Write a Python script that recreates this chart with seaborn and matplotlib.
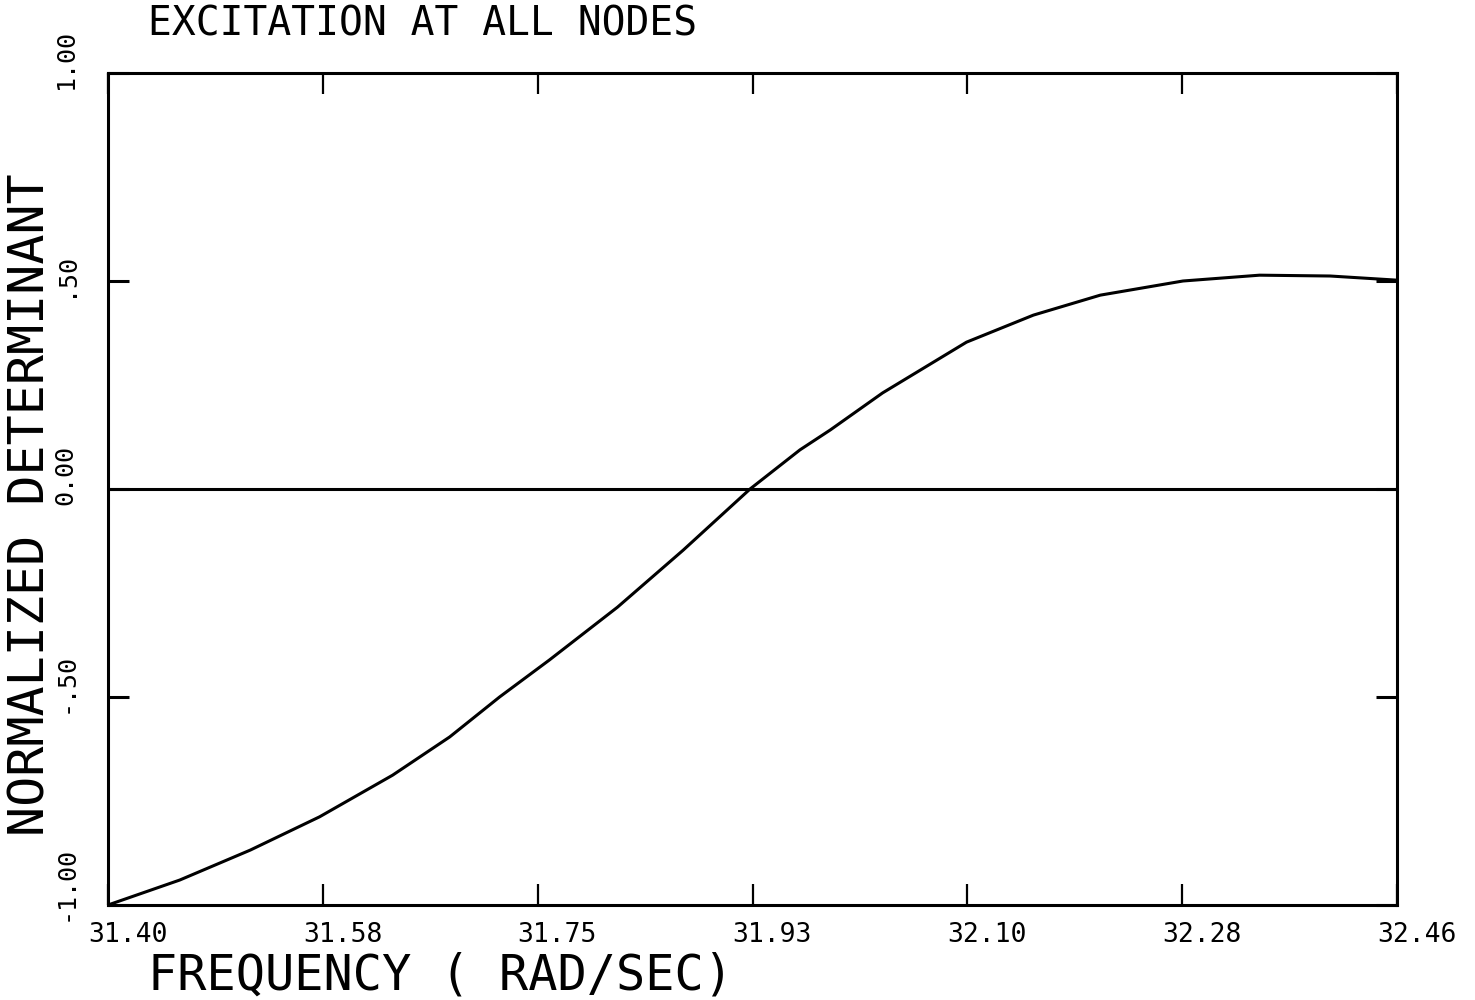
import matplotlib
matplotlib.use("Agg")
import matplotlib.pyplot as plt
from matplotlib.transforms import ScaledTranslation
import seaborn as sns

# ---- data ----
freq = [31.400, 31.459, 31.517, 31.574, 31.634, 31.681, 31.722, 31.763,
        31.819, 31.873, 31.928, 31.969, 31.994, 32.037, 32.106, 32.161,
        32.216, 32.284, 32.347, 32.405, 32.460]
det = [-1.000, -0.940, -0.868, -0.788, -0.688, -0.596, -0.500, -0.411,
       -0.284, -0.147, 0.000, 0.094, 0.142, 0.231, 0.353, 0.418,
       0.466, 0.500, 0.514, 0.512, 0.502]

xticks = [31.40, 31.5767, 31.7533, 31.93, 32.1067, 32.2833, 32.46]
xtick_labels = ["31.40", "31.58", "31.75", "31.93", "32.10", "32.28", "32.46"]
yticks = [-1.0, -0.5, 0.0, 0.5, 1.0]
ytick_labels = ["-1.00", "-.50", "0.00", ".50", "1.00"]

title = "EXCITATION AT ALL NODES"
xlabel = "FREQUENCY ( RAD/SEC)"
ylabel = "NORMALIZED DETERMINANT"

sns.set_theme(style="white")
plt.rcParams['font.family'] = ['DejaVu Sans Mono', 'DejaVu Sans']

fig = plt.figure(figsize=(14.75, 10), dpi=100)
ax = fig.add_axes([108/1475, 1 - 905/1000, (1397 - 108)/1475, (905 - 73)/1000])

sns.lineplot(x=freq, y=det, ax=ax, color="black", linewidth=2.2, sort=False)
ax.axhline(0, color="black", linewidth=2.2)

ax.set_xlim(31.40, 32.46)
ax.set_ylim(-1.0, 1.0)

for s in ax.spines.values():
    s.set_color("black")
    s.set_linewidth(2.2)
    s.set_visible(True)

ax.set_xticks(xticks)
ax.set_yticks(yticks)
ax.set_xticklabels(xtick_labels, fontsize=19, ha="left")
ax.set_yticklabels(ytick_labels, fontsize=18, rotation=90, va="bottom")

ax.tick_params(axis="x", which="major", direction="in", length=15, width=1.6,
               top=True, bottom=True, pad=12, colors="black")
ax.tick_params(axis="y", which="major", direction="in", length=15, width=2.2,
               left=True, right=True, pad=22, colors="black")

# shift x tick labels so they start slightly left of their tick
dx = ScaledTranslation(-20/100, 0, fig.dpi_scale_trans)
for t in ax.xaxis.get_major_ticks():
    t.label1.set_transform(t.label1.get_transform() + dx)
dy = ScaledTranslation(0, -16/100, fig.dpi_scale_trans)
for t in ax.yaxis.get_major_ticks():
    t.label1.set_transform(t.label1.get_transform() + dy)

ax.set_xlabel(xlabel, fontsize=35, ha="left", va="center", color="black")
ax.xaxis.set_label_coords((148 - 108)/1289, (905 - 976)/832)
ax.set_ylabel(ylabel, fontsize=36, va="center", ha="center", color="black")
ax.yaxis.set_label_coords((31 - 108)/1289, (905 - 505)/832)

fig.text(148/1475, 1 - 25/1000, title, fontsize=28.5, ha="left", va="center",
         color="black")

fig.savefig("out.png", dpi=100, facecolor="white")
